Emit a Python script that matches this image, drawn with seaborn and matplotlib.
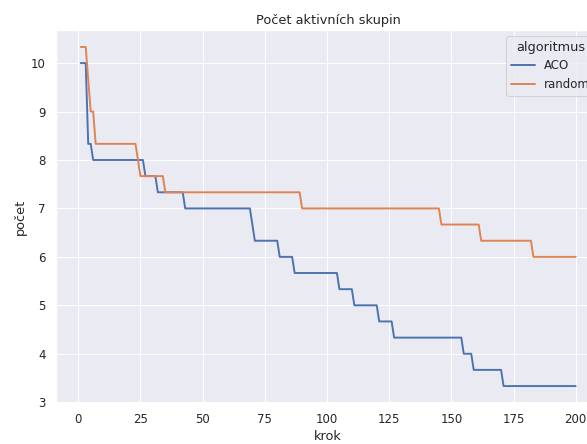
import numpy as np
import pandas as pd
import matplotlib.pyplot as plt
import seaborn as sns

# ── DATA (change points of step series) ─────────────────────────────
krok_max = 200

aco_krok = [1, 4, 6, 27, 32, 43, 70, 71, 81, 87, 105, 111, 121, 127, 155, 159, 171]
aco_pocet = [10.0, 8.333, 8.0, 7.667, 7.333, 7.0, 6.667, 6.333, 6.0, 5.667,
             5.333, 5.0, 4.667, 4.333, 4.0, 3.667, 3.333]

random_krok = [1, 4, 5, 7, 24, 25, 35, 90, 146, 162, 183]
random_pocet = [10.333, 9.667, 9.0, 8.333, 8.0, 7.667, 7.333, 7.0, 6.667, 6.333, 6.0]

algoritmy = ["ACO", "random"]


def expand(kroky, hodnoty):
    s = pd.Series(hodnoty, index=kroky)
    return s.reindex(range(1, krok_max + 1)).ffill()


frames = []
for name, kroky, hodnoty in [("ACO", aco_krok, aco_pocet),
                             ("random", random_krok, random_pocet)]:
    s = expand(kroky, hodnoty)
    frames.append(pd.DataFrame({"krok": s.index, "počet": s.values,
                                "algoritmus": name}))
df = pd.concat(frames, ignore_index=True)

# ── PLOT ────────────────────────────────────────────────────────────
sns.set_theme(style="darkgrid")
DPI = 77
fig = plt.figure(figsize=(587 / DPI, 444 / DPI), dpi=DPI)
ax = fig.add_axes([0.0954, 0.0923, 0.9275, 0.8401])

sns.lineplot(data=df, x="krok", y="počet", hue="algoritmus",
             hue_order=algoritmy, linewidth=1.8, ax=ax)

ax.set_title("Počet aktivních skupin")
ax.set_xlabel("krok")
ax.set_ylabel("počet")
ax.legend(title="algoritmus", loc="upper right")

fig.savefig("out.png", dpi=DPI)
